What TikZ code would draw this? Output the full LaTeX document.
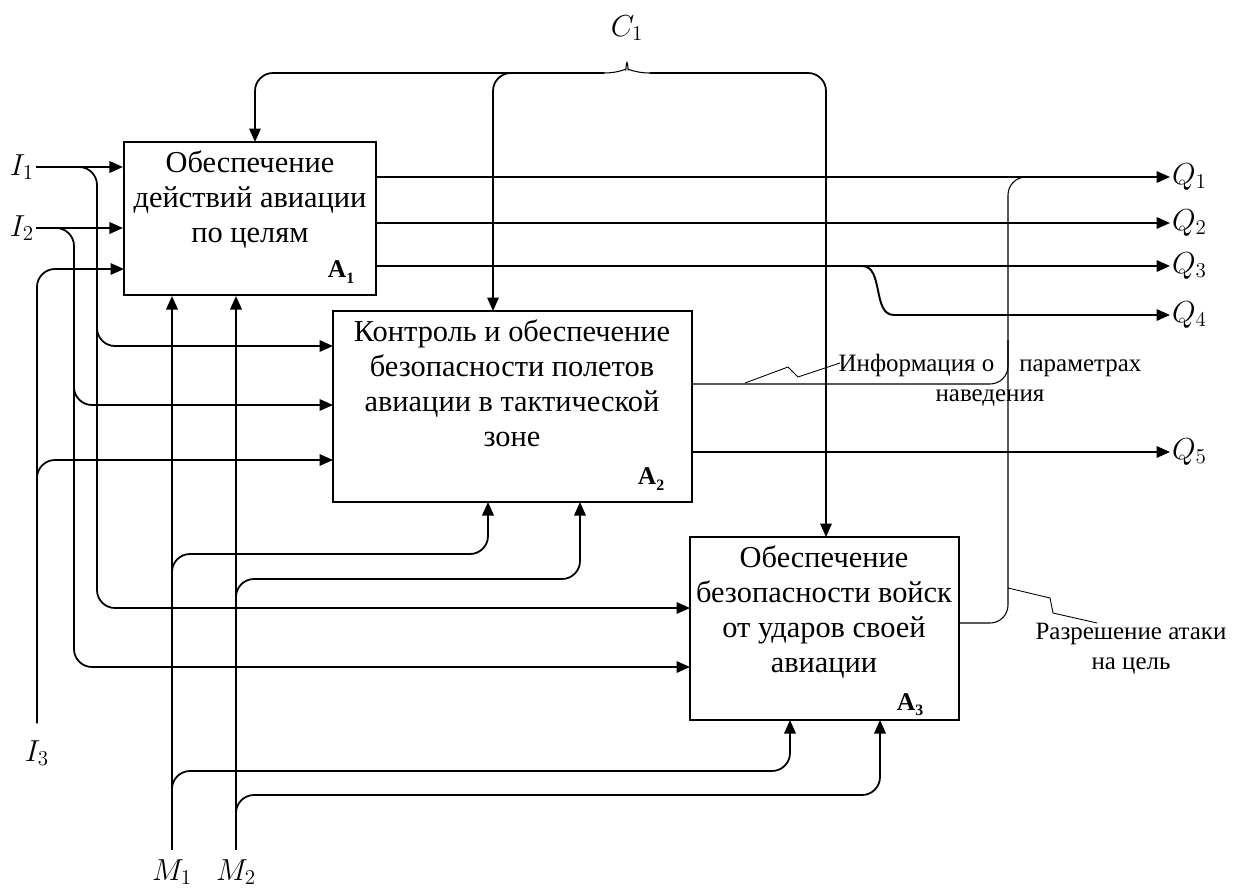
\documentclass[tikz,border=0pt]{standalone}
\usepackage{fontspec}
\setmainfont{Liberation Serif}
\usepackage{tikz}
\usetikzlibrary{arrows.meta,positioning,calc}
\newcommand{\blk}[1]{\textbf{A}\raisebox{-0.45ex}{\textbf{\small #1}}}

\begin{document}
\begin{tikzpicture}[x=0.02cm, y=-0.02cm,
  box/.style={draw, line width=1.2pt, inner sep=0pt},
  txt/.style={align=center, font=\fontsize{17.3}{19.9}\selectfont, inner sep=0pt},
  num/.style={font=\fontsize{14.5}{16}\selectfont, inner sep=0pt},
  lab/.style={font=\fontsize{17}{20}\selectfont, inner sep=1pt},
  note/.style={align=center, font=\fontsize{14.2}{17}\selectfont, inner sep=0pt},
  act/.style={-{Triangle[length=2.7mm, width=2.3mm]}, line width=1.1pt},
  feed/.style={-{Triangle[length=2.7mm, width=2.3mm]}, line width=1pt, rounded corners=0.36cm},
  bus/.style={line width=0.6pt, rounded corners=0.36cm}]
  \useasboundingbox (0,0) rectangle (1240,889);
  % blocks
  \node[box, minimum width=5.04cm, minimum height=3.06cm] (a1) at (250,218.5) {};
  \node[box, minimum width=7.18cm, minimum height=3.82cm] (a2) at (512.5,406.5) {};
  \node[box, minimum width=5.38cm, minimum height=3.66cm] (a3) at (824.5,628.5) {};
  \node[txt, anchor=north] (a1t) at (250,150) {Обеспечение\\действий авиации\\по целям};
  \node[txt, anchor=north] (a2t) at (512,319) {Контроль и обеспечение\\безопасности полетов\\авиации в тактической\\зоне};
  \node[txt, anchor=north] (a3t) at (824,545) {Обеспечение\\безопасности войск\\от ударов своей\\авиации};
  \node[num] (a1n) at (341,272) {\blk{1}};
  \node[num] (a2n) at (651,479) {\blk{2}};
  \node[num] (a3n) at (910,705) {\blk{3}};
  % labels
  \node[lab] (i1) at (22,167) {$I_1$};
  \node[lab] (i2) at (22,228) {$I_2$};
  \node[lab] (i3) at (37,753) {$I_3$};
  \node[lab] (m1) at (172,872) {$M_1$};
  \node[lab] (m2) at (236,872) {$M_2$};
  \node[lab] (c1) at (627,28) {$C_1$};
  \node[lab, anchor=west] (q1) at (1170,177) {$Q_1$};
  \node[lab, anchor=west] (q2) at (1170,223) {$Q_2$};
  \node[lab, anchor=west] (q3) at (1170,266) {$Q_3$};
  \node[lab, anchor=west] (q4) at (1170,315) {$Q_4$};
  \node[lab, anchor=west] (q5) at (1170,452) {$Q_5$};
  % control
  \draw[bus] (604,73) .. controls (620,73) and (626,68) .. (627,52)
    .. controls (628,68) and (634,73) .. (650,73);
  \draw[feed] (604,73) -- (255,73) -- (255,142);
  \draw[feed] (530,73) -- (493,73) -- (493,311);
  \draw[feed] (650,73) -- (826,73) -- (826,537);
  % inputs
  \draw[act] (i1) -- (i1 -| a1.west);
  \draw[act] (i2) -- (i2 -| a1.west);
  \draw[feed] ([yshift=0.3cm]i3.north) |- (124,269);
  \draw[feed] (37,500) |- (333,460);
  \draw[feed] (i1.east) -- (97,167) -- (97,608) -- (690,608);
  \draw[feed] (97,300) |- (333,346);
  \draw[feed] (i2.east) -- (74,228) -- (74,667) -- (690,667);
  \draw[feed] (74,360) |- (333,405);
  % mechanisms
  \draw[act] ([yshift=0.15cm]m1.north) -- (m1 |- a1.south);
  \draw[act] ([yshift=0.15cm]m2.north) -- (m2 |- a1.south);
  \draw[feed] (172,600) -- (172,554) -- (488,554) -- (488,502);
  \draw[feed] (236,620) -- (236,579) -- (580,579) -- (580,502);
  \draw[feed] (172,815) -- (172,771) -- (790,771) -- (790,720);
  \draw[feed] (236,840) -- (236,795) -- (880,795) -- (880,720);
  % outputs
  \draw[act] (a1.east |- q1) -- (q1);
  \draw[act] (a1.east |- q2) -- (q2);
  \draw[act] (a1.east |- q3) -- (q3);
  \draw[act] (862,266) .. controls (884,266) and (872,315) .. (894,315) -- (q4);
  \draw[act] (a2.east |- q5) -- (q5);
  \draw[bus] (959,623) -- (1008,623) -- (1008,177) -- (1045,177);
  \draw[bus] (692,384) -- (1008,384) -- (1008,340);
  % notes
  \draw[line width=0.5pt] (745,383) -- (788,367) -- (798,377) -- (840,363);
  \draw[line width=0.5pt] (1008,588) -- (1050,598) -- (1053,613) -- (1097,623);
  \node[note] (info) at (990,380) {Информация о\quad параметрах\\наведения};
  \node[note] (perm) at (1131,649) {Разрешение атаки\\на цель};
\end{tikzpicture}
\end{document}
